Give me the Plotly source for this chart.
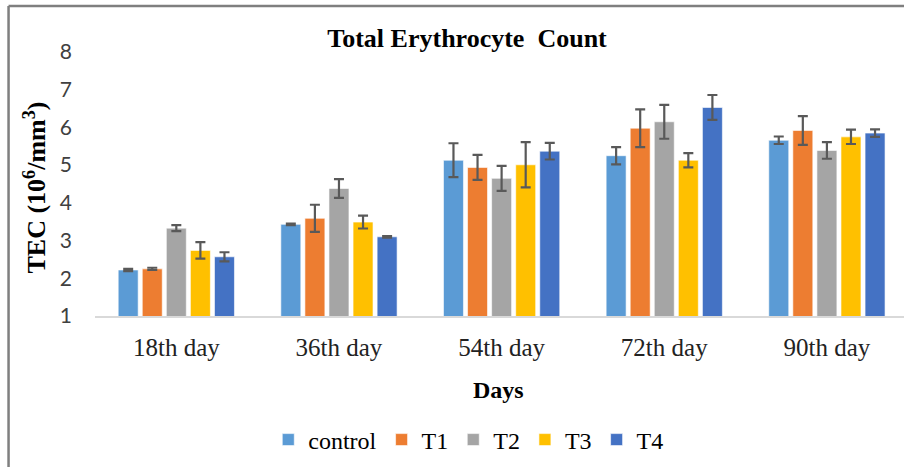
import plotly.graph_objects as go

days = ["18th day", "36th day", "54th day", "72th day", "90th day"]
series_names = ["control", "T1", "T2", "T3", "T4"]
control = [2.22, 3.43, 5.13, 5.25, 5.66]
t1 = [2.25, 3.59, 4.94, 5.98, 5.92]
t2 = [3.33, 4.38, 4.65, 6.15, 5.39]
t3 = [2.74, 3.49, 5.01, 5.13, 5.75]
t4 = [2.57, 3.10, 5.37, 6.53, 5.85]
control_err = [0.03, 0.02, 0.45, 0.23, 0.10]
t1_err = [0.03, 0.36, 0.33, 0.50, 0.38]
t2_err = [0.08, 0.25, 0.33, 0.45, 0.22]
t3_err = [0.22, 0.17, 0.60, 0.19, 0.19]
t4_err = [0.12, 0.02, 0.22, 0.33, 0.10]
y_ticks = [1, 2, 3, 4, 5, 6, 7, 8]

values = [control, t1, t2, t3, t4]
errors = [control_err, t1_err, t2_err, t3_err, t4_err]
colors = ["#5b9bd5", "#ed7d31", "#a5a5a5", "#ffc000", "#4472c4"]

W, H = 904, 467
L, R, T, B = 94.5, 0, 52, 151
pw = W - L - R
ph = H - T - B

def px2x(px):
    return (px - L) / pw

def py2y(py):
    return (H - B - py) / ph

fig = go.Figure()
for name, v, e, c in zip(series_names, values, errors, colors):
    fig.add_trace(go.Bar(
        x=days, y=v, name=name,
        marker=dict(color=c, line=dict(color="rgba(255,255,255,0.6)", width=1)),
        error_y=dict(type="data", array=e, visible=True, color="#595959",
                     thickness=2.2, width=5),
    ))

fig.update_layout(
    width=W, height=H,
    margin=dict(l=L, r=R, t=T, b=B, autoexpand=False),
    paper_bgcolor="white", plot_bgcolor="white",
    barmode="group", bargap=0.26, bargroupgap=0.17,
    showlegend=True,
    title=dict(text="<b>Total Erythrocyte  Count</b>", x=467 / W, xref="container",
               xanchor="center", y=1 - 38 / H, yref="container", yanchor="middle",
               font=dict(family="Liberation Serif", size=26, color="black")),
    legend=dict(orientation="h", x=px2x(468), xanchor="center", y=py2y(440),
                yanchor="middle", font=dict(family="Liberation Serif", size=24, color="black"),
                itemwidth=30, tracegroupgap=0),
    xaxis=dict(range=[-0.5, 4.474], showline=True, linecolor="#d9d9d9", linewidth=2,
               showgrid=False, ticks="", ticklabelstandoff=8,
               tickfont=dict(family="Liberation Serif", size=25, color="#222")),
    yaxis=dict(range=[1, 8], tickvals=y_ticks, showgrid=False, showline=False,
               zeroline=False, ticks="", ticklabelstandoff=22,
               tickfont=dict(family="Lato", size=21, color="#404040")),
    annotations=[
        dict(text="<b>Days</b>", x=px2x(498), y=py2y(390), xref="paper", yref="paper",
             showarrow=False, xanchor="center", yanchor="middle",
             font=dict(family="Liberation Serif", size=24, color="black")),
        dict(text="<b>TEC (10<sup>6</sup>/mm<sup>3</sup>)</b>", x=px2x(34), y=py2y(188),
             xref="paper", yref="paper", showarrow=False, textangle=-90,
             xanchor="center", yanchor="middle",
             font=dict(family="Liberation Serif", size=26, color="black")),
    ],
    shapes=[
        dict(type="line", xref="paper", yref="paper", x0=px2x(8), x1=px2x(8),
             y0=py2y(6), y1=py2y(470), line=dict(color="#7f7f7f", width=2.5)),
        dict(type="line", xref="paper", yref="paper", x0=px2x(8), x1=px2x(910),
             y0=py2y(6), y1=py2y(6), line=dict(color="#7f7f7f", width=2.5)),
    ],
)

fig.write_html("out.html")
